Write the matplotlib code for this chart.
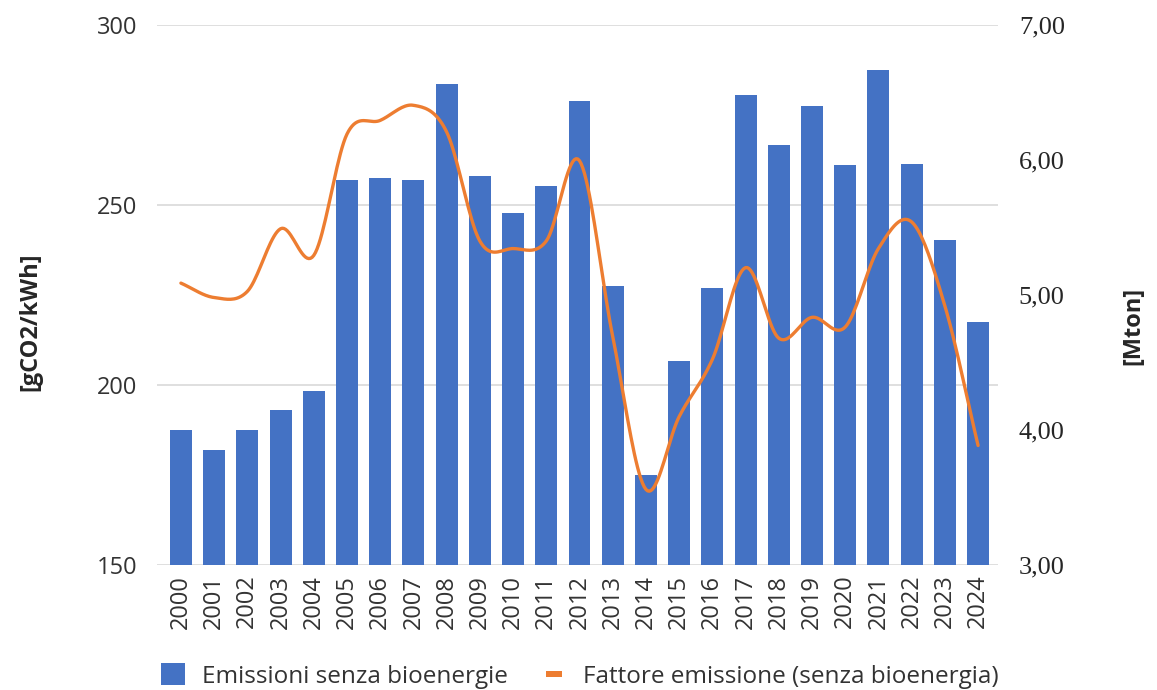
import numpy as np
import matplotlib.pyplot as plt
from matplotlib.patches import Patch, Rectangle
from matplotlib.legend_handler import HandlerPatch

years = [str(y) for y in range(2000, 2025)]

# Emissioni senza bioenergie [Mton] (right axis)
emissioni = [4.00, 3.85, 4.00, 4.15, 4.29, 5.85, 5.87, 5.85, 6.56, 5.88,
             5.61, 5.81, 6.44, 5.07, 3.67, 4.51, 5.05, 6.48, 6.11, 6.40,
             5.96, 6.67, 5.97, 5.41, 4.80]

# Fattore emissione (senza bioenergia) [gCO2/kWh] (left axis)
fattore = [228.3, 224.3, 226.0, 243.4, 236.0, 269.7, 273.5, 277.7, 270.3, 240.0,
           237.9, 240.0, 262.3, 213.5, 171.0, 191.2, 207.1, 232.6, 213.0, 218.8,
           216.1, 237.9, 245.3, 222.0, 183.2]

BLUE = '#4472C4'
ORANGE = '#ED7D31'
SANS = 'Open Sans'
SERIF = 'Liberation Serif'


def smooth(x, y, n=20):
    # catmull-rom curve through the points, like excel's smoothed line
    x = np.asarray(x, float)
    y = np.asarray(y, float)
    px = np.concatenate([[2 * x[0] - x[1]], x, [2 * x[-1] - x[-2]]])
    py = np.concatenate([[2 * y[0] - y[1]], y, [2 * y[-1] - y[-2]]])
    xs, ys = [], []
    t = np.linspace(0, 1, n, endpoint=False)
    for i in range(1, len(px) - 2):
        for p, out in ((px, xs), (py, ys)):
            p0, p1, p2, p3 = p[i - 1], p[i], p[i + 1], p[i + 2]
            out.append(0.5 * (2 * p1 + (-p0 + p2) * t
                              + (2 * p0 - 5 * p1 + 4 * p2 - p3) * t ** 2
                              + (-p0 + 3 * p1 - 3 * p2 + p3) * t ** 3))
    xs = np.concatenate(xs + [[x[-1]]])
    ys = np.concatenate(ys + [[y[-1]]])
    return xs, ys


def dash(legend, orig_handle, xdescent, ydescent, width, height, fontsize):
    # short thick legend mark for the line series
    return Rectangle((-xdescent + 0.17 * width, -ydescent + 0.37 * height),
                     0.66 * width, 0.26 * height)


plt.rcParams['font.family'] = [SANS, 'DejaVu Sans']

fig = plt.figure(figsize=(11.57, 6.90), dpi=100)
ax = fig.add_axes([157 / 1157, 1 - 565 / 690, 841 / 1157, 540 / 690])
ax2 = ax.twinx()
ax3 = ax.twinx()

x = np.arange(len(years))

# left axis: grid and ticks only
ax.set_ylim(150, 300)
ax.set_yticks([150, 200, 250, 300])
ax.grid(axis='y', color='#d9d9d9', lw=1.2)
ax.set_axisbelow(True)
ax.tick_params(axis='y', length=0, pad=14, labelsize=17, labelcolor='#333333')
ax.set_xticks(x)
ax.set_xticklabels(years, rotation=90)
ax.tick_params(axis='x', length=0, pad=7, labelsize=17, labelcolor='#333333')
ax.set_xlim(-0.72, 24.6)

# bars on the right axis
ax2.bar(x, emissioni, width=0.66, color=BLUE, zorder=2)
ax2.set_ylim(3, 7)
ax2.set_yticks([3, 4, 5, 6, 7])
ax2.set_yticklabels([('%.2f' % v).replace('.', ',') for v in [3, 4, 5, 6, 7]],
                    family=SERIF)
ax2.tick_params(axis='y', length=0, pad=15, labelsize=19, labelcolor='#262626')

# line on its own layer so it sits above the bars
xs, ys = smooth(x, fattore)
ax3.plot(xs, ys, color=ORANGE, lw=2.4, solid_capstyle='round')
ax3.set_ylim(150, 300)
ax3.set_yticks([])

for a in (ax, ax2, ax3):
    for s in a.spines.values():
        s.set_visible(False)

fig.text(30 / 1157, 1 - 322 / 690, '[gCO2/kWh]', rotation=90, ha='center',
         va='center', fontsize=17, fontweight='bold', color='#262626')
fig.text(1133 / 1157, 1 - 326 / 690, '[Mton]', rotation=90, ha='center',
         va='center', fontsize=17, fontweight='bold', color='#262626')

handles = [Patch(facecolor=BLUE, edgecolor='none'),
           Patch(facecolor=ORANGE, edgecolor='none')]
labels = ['Emissioni senza bioenergie', 'Fattore emissione (senza bioenergia)']
fig.legend(handles, labels, loc='center', bbox_to_anchor=(580 / 1157, 1 - 676 / 690),
           ncol=2, frameon=False, fontsize=17.5, handlelength=1.0, handleheight=1.0,
           columnspacing=1.4, handletextpad=0.7, labelcolor='#333333',
           borderaxespad=0, borderpad=0,
           handler_map={handles[1]: HandlerPatch(patch_func=dash)})

fig.savefig('out.png', dpi=100)
